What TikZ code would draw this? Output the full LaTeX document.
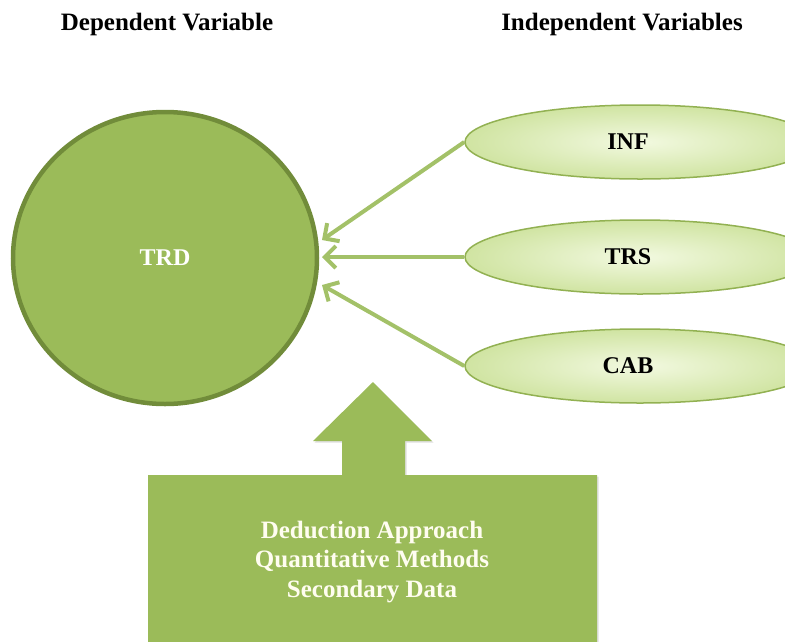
\documentclass[tikz,border=0pt]{standalone}
\usepackage{fontspec}
\setmainfont{Liberation Serif}
\usetikzlibrary{arrows.meta,shapes.geometric,shadows}
\definecolor{ogreen}{HTML}{9BBB59}
\definecolor{ogdark}{HTML}{718C3A}
\definecolor{olinkc}{HTML}{A3C168}
\definecolor{olightin}{HTML}{F2F9E0}
\definecolor{olightout}{HTML}{D0E4A2}
\definecolor{oellline}{HTML}{92B152}
\definecolor{ocream}{HTML}{FFFDF0}
\tikzset{
  hdr/.style={font=\bfseries\fontsize{25}{28}\selectfont, text=black},
  indep/.style={ellipse, minimum width=350pt, minimum height=74pt, draw=oellline, line width=1.5pt,
    inner color=olightin, outer color=olightout, font=\bfseries\fontsize{24}{28}\selectfont, text=black},
  dep/.style={ellipse, minimum width=304pt, minimum height=292pt, fill=ogreen, draw=ogdark, line width=4.5pt,
    font=\bfseries\fontsize{24}{28}\selectfont, text=white},
  link/.style={draw=olinkc, line width=4pt, -{Straight Barb[length=11pt,width=22pt,line width=4pt]}},
  blockar/.style={fill=ogreen, draw=none, drop shadow={opacity=0.25, shadow xshift=1.5pt, shadow yshift=-1.5pt}},
}
\begin{document}
\begin{tikzpicture}[x=1pt,y=-1pt]
\useasboundingbox (0,0) rectangle (785,641);
\clip (0,0) rectangle (785,641);
\node[hdr] (hdep) at (167,24) {Dependent Variable};
\node[hdr] (hind) at (622,24) {Independent Variables};
\node[dep] (trd) at (165,258) {TRD};
\node[indep] (inf) at (640,142) {INF\hspace*{24pt}};
\node[indep] (trs) at (640,257) {TRS\hspace*{24pt}};
\node[indep] (cab) at (640,366) {CAB\hspace*{24pt}};
\coordinate (t1) at (322,240);
\coordinate (t2) at (322,257);
\coordinate (t3) at (322,285);
\draw[link] (inf.west) -- (t1);
\draw[link] (trs.west) -- (t2);
\draw[link] (cab.west) -- (t3);
\path[blockar] (148,475) -- (342,475) -- (342,441) -- (313,441) -- (373,382) -- (432,441) -- (405,441) -- (405,475) -- (597,475) -- (597,660) -- (148,660) -- cycle;
\node[align=center, text=ocream, font=\bfseries\fontsize{25}{29.5}\selectfont] (meth) at (372,562)
  {Deduction Approach\\Quantitative Methods\\Secondary Data};
\end{tikzpicture}
\end{document}
